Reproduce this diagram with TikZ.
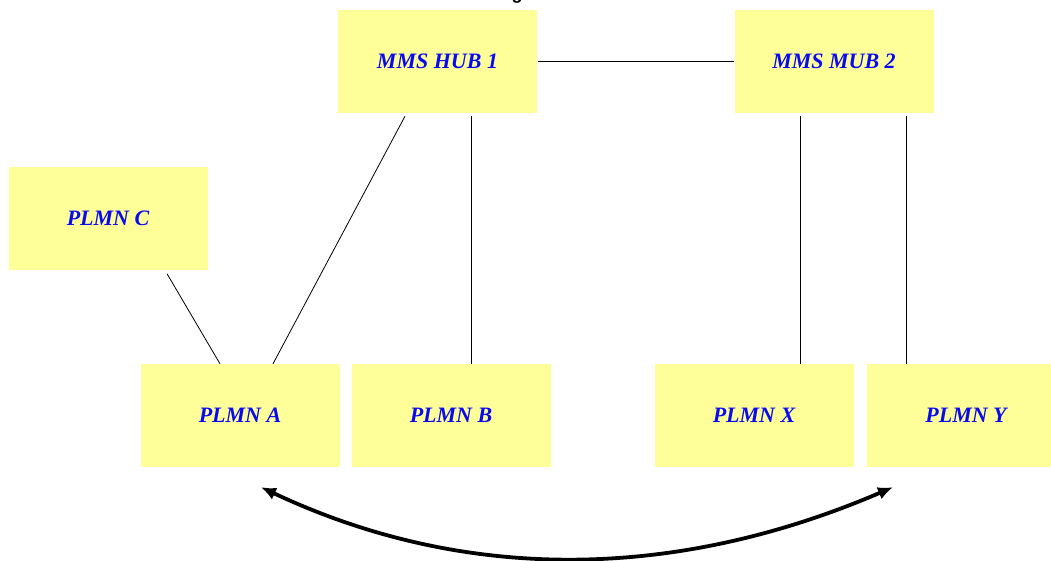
\documentclass[tikz,border=0pt]{standalone}
\usepackage{fontspec}
\setmainfont{Liberation Serif}
\newfontfamily\headfont{Liberation Sans}
\usetikzlibrary{arrows.meta}
\definecolor{boxfill}{RGB}{255,255,153}
\definecolor{labelblue}{RGB}{10,10,240}
\begin{document}
\begin{tikzpicture}[x=1pt,y=-1pt,
  netbox/.style={rectangle, fill=boxfill, draw=none, inner sep=0pt,
    minimum width=199pt, minimum height=103pt,
    text=labelblue, font=\fontsize{22}{26}\selectfont\bfseries\itshape},
  link/.style={draw=black, line width=0.8pt},
  roam/.style={line width=3.8pt, {Latex[length=15pt,width=13pt]}-{Latex[length=15pt,width=13pt]}}]
\useasboundingbox (0,0) rectangle (1051,560);

% clipped heading above the picture
\node[font=\headfont\bfseries\fontsize{18}{20}\selectfont, anchor=base, inner sep=0pt] (head) at (517,-0.8) {g};

% hubs
\node[netbox] (hub1) at (437.5,61.5) {MMS HUB 1};
\node[netbox] (hub2) at (834,61.5) {MMS MUB 2};

% networks
\node[netbox] (plmnc) at (108,218) {PLMN C};
\node[netbox] (plmna) at (240,415.5) {PLMN A};
\node[netbox] (plmnb) at (451,415.5) {PLMN B};
\node[netbox] (plmnx) at (754,415.5) {PLMN X};
\node[netbox] (plmny) at (966,415.5) {PLMN Y};

% links (shifts are in page units: negative yshift points down)
\draw[link] ([xshift=1pt]hub1.east) -- (hub2.west);
\draw[link] ([xshift=-32.5pt,yshift=-3pt]hub1.south) -- ([xshift=33pt]plmna.north);
\draw[link] ([xshift=33.5pt,yshift=-3pt]hub1.south) -- ([xshift=20pt]plmnb.north);
\draw[link] ([xshift=-34pt,yshift=-3pt]hub2.south) -- ([xshift=46pt]plmnx.north);
\draw[link] ([xshift=72pt,yshift=-3pt]hub2.south) -- ([xshift=-60pt]plmny.north);
\draw[link] ([xshift=59pt,yshift=-4pt]plmnc.south) -- ([xshift=-20pt]plmna.north);

% roaming arrow between A and Y
\coordinate (roamA) at ([xshift=21pt,yshift=-20pt]plmna.south);
\coordinate (roamY) at ([xshift=-73pt,yshift=-20pt]plmny.south);
\draw[roam] (roamA) .. controls (462,582) and (672,582) .. (roamY);
\end{tikzpicture}
\end{document}
